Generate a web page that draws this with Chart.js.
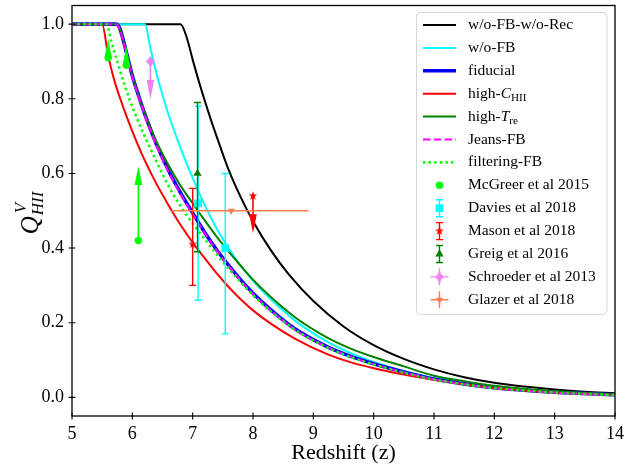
<!DOCTYPE html>
<html>
<head>
<meta charset="utf-8">
<script src="https://cdn.jsdelivr.net/npm/chart.js@4.4.0/dist/chart.umd.min.js"></script>
<style>
  html, body { margin: 0; padding: 0; background: #fff; }
  #caja { width: 644px; height: 466px; }
</style>
</head>
<body>
<div id="caja"><canvas id="graficoQ" width="644" height="466"></canvas></div>
<script>
// Curvas del modelo (redshift z, fraccion ionizada Q)
const zSinFbSinRec = [5, 6.8, 6.9, 7.0, 7.1, 7.2, 7.3, 7.4, 7.6, 7.8, 8.0, 8.3, 8.6, 9.0, 9.5, 10.0, 10.5, 11.0, 11.5, 12.0, 12.5, 13.0, 13.5, 14];
const qSinFbSinRec = [1, 1, 0.965, 0.905, 0.848, 0.795, 0.745, 0.698, 0.608, 0.535, 0.472, 0.393, 0.328, 0.258, 0.19, 0.14, 0.103, 0.075, 0.054, 0.039, 0.029, 0.021, 0.015, 0.011];

const zSinFb = [5, 6.21, 6.3, 6.4, 6.5, 6.6, 6.8, 7.0, 7.2, 7.4, 7.6, 7.8, 8.0, 8.3, 8.7, 9.2, 9.6, 10.0, 10.5, 11.0, 11.5, 12.0, 13.0, 14];
const qSinFb = [1, 1, 0.935, 0.868, 0.81, 0.758, 0.668, 0.588, 0.515, 0.452, 0.398, 0.352, 0.312, 0.262, 0.205, 0.152, 0.12, 0.095, 0.07, 0.051, 0.038, 0.028, 0.015, 0.008];

// fiducial, high-T y Jeans-FB comparten la misma rejilla en z
const zFid = [5, 5.74, 5.8, 5.9, 6.0, 6.1, 6.2, 6.4, 6.6, 6.8, 7.0, 7.2, 7.4, 7.6, 7.8, 8.0, 8.3, 8.7, 9.2, 9.6, 10.0, 10.5, 11.0, 11.5, 12.0, 13.0, 14];
const qFiducial = [1, 1, 0.985, 0.925, 0.862, 0.81, 0.762, 0.678, 0.608, 0.548, 0.494, 0.442, 0.395, 0.353, 0.314, 0.279, 0.234, 0.183, 0.138, 0.111, 0.09, 0.068, 0.049, 0.036, 0.026, 0.014, 0.007];
const qAltaT = [1, 1, 0.985, 0.925, 0.862, 0.81, 0.764, 0.685, 0.622, 0.567, 0.52, 0.474, 0.43, 0.39, 0.352, 0.315, 0.268, 0.214, 0.163, 0.132, 0.108, 0.083, 0.058, 0.043, 0.031, 0.016, 0.008];
const qJeans = [1, 1, 0.982, 0.922, 0.859, 0.807, 0.759, 0.675, 0.605, 0.545, 0.491, 0.44, 0.393, 0.351, 0.312, 0.277, 0.232, 0.181, 0.137, 0.11, 0.089, 0.067, 0.048, 0.035, 0.025, 0.013, 0.006];

const zAltaC = [5, 5.5, 5.6, 5.7, 5.8, 5.9, 6.0, 6.2, 6.4, 6.6, 6.8, 7.0, 7.2, 7.4, 7.6, 7.8, 8.0, 8.3, 8.7, 9.2, 9.6, 10.0, 10.5, 11.0, 11.5, 12.0, 13.0, 14];
const qAltaC = [1, 1, 0.915, 0.85, 0.8, 0.755, 0.713, 0.637, 0.572, 0.515, 0.462, 0.415, 0.373, 0.332, 0.295, 0.262, 0.233, 0.197, 0.157, 0.118, 0.095, 0.078, 0.061, 0.047, 0.035, 0.025, 0.013, 0.006];

const zFiltrado = [5, 5.57, 5.65, 5.75, 5.85, 5.95, 6.05, 6.2, 6.4, 6.6, 6.8, 7.0, 7.2, 7.4, 7.6, 7.8, 8.0, 8.3, 8.7, 9.2, 9.6, 10.0, 10.5, 11.0, 11.5, 12.0, 13.0, 14];
const qFiltrado = [1, 1, 0.955, 0.9, 0.848, 0.8, 0.758, 0.702, 0.632, 0.567, 0.512, 0.466, 0.424, 0.383, 0.344, 0.308, 0.274, 0.23, 0.181, 0.136, 0.109, 0.088, 0.066, 0.048, 0.035, 0.025, 0.013, 0.006];

// Observaciones
const zMcGreer = [5.6, 5.9, 6.1];
const qMcGreer = [0.91, 0.89, 0.42];
const limMcGreer = [0.05, 0.05, 0.20];          // limites inferiores (flecha arriba)

const zDavies = [7.09, 7.54];
const qDavies = [0.52, 0.40];
const errBajoDavies = [0.26, 0.23];
const errAltoDavies = [0.26, 0.20];

const zMason = [7.0, 8.0];
const qMason = [0.41, 0.54];
const errBajoMason = [0.11, null];
const errAltoMason = [0.15, null];
const limMason = [null, -0.10];                 // limite superior (flecha abajo)

const zGreig = [7.08];
const qGreig = [0.60];
const errBajoGreig = [0.21];
const errAltoGreig = [0.19];

const zSchroeder = [6.3];
const qSchroeder = [0.90];
const errZSchroeder = [0.07];
const limSchroeder = [-0.10];

const zGlazer = [7.64];
const qGlazer = [0.50];
const errZBajoGlazer = [0.99];
const errZAltoGlazer = [1.28];

const ticksX = [5, 6, 7, 8, 9, 10, 11, 12, 13, 14];
const ticksY = [0.0, 0.2, 0.4, 0.6, 0.8, 1.0];

const nombresSeries = ['w/o-FB-w/o-Rec', 'w/o-FB', 'fiducial', 'high-C_HII', 'high-T_re', 'Jeans-FB', 'filtering-FB',
  'McGreer et al 2015', 'Davies et al 2018', 'Mason et al 2018', 'Greig et al 2016', 'Schroeder et al 2013', 'Glazer et al 2018'];

const fuente = "'Liberation Serif', 'DejaVu Serif', serif";

function puntos(zs, qs) {
  return zs.map((z, i) => ({ x: z, y: qs[i] }));
}

// estrella rellena y diamante fino como pointStyle
function crearEstrella(color, r) {
  const c = document.createElement('canvas');
  const s = Math.ceil(2 * r + 2);
  c.width = s; c.height = s;
  const g = c.getContext('2d');
  g.fillStyle = color;
  g.beginPath();
  for (let i = 0; i < 10; i++) {
    const rr = i % 2 === 0 ? r : r * 0.42;
    const a = -Math.PI / 2 + i * Math.PI / 5;
    g.lineTo(s / 2 + rr * Math.cos(a), s / 2 + rr * Math.sin(a));
  }
  g.closePath();
  g.fill();
  return c;
}

function crearDiamante(color, w, h) {
  const c = document.createElement('canvas');
  c.width = Math.ceil(w + 2); c.height = Math.ceil(h + 2);
  const g = c.getContext('2d');
  const cx = c.width / 2, cy = c.height / 2;
  g.fillStyle = color;
  g.beginPath();
  g.moveTo(cx, cy - h / 2);
  g.lineTo(cx + w / 2, cy);
  g.lineTo(cx, cy + h / 2);
  g.lineTo(cx - w / 2, cy);
  g.closePath();
  g.fill();
  return c;
}

const estrellaRoja = crearEstrella('#ff0000', 4.6);
const diamanteVioleta = crearDiamante('#ee82ee', 8, 11);

function linea(label, zs, qs, color, ancho, dash) {
  return {
    label: label,
    data: puntos(zs, qs),
    showLine: true,
    borderColor: color,
    backgroundColor: color,
    borderWidth: ancho,
    borderDash: dash || [],
    pointRadius: 0,
    cubicInterpolationMode: 'monotone',
    fill: false,
    tipoLeyenda: 'linea'
  };
}

function observacion(label, zs, qs, color, estilo, radio, rot, extra) {
  return Object.assign({
    label: label,
    data: puntos(zs, qs),
    showLine: false,
    pointStyle: estilo,
    pointRadius: radio,
    pointRotation: rot || 0,
    backgroundColor: color,
    borderColor: color,
    pointBorderWidth: 0,
    borderWidth: 0,
    colorError: color,
    tipoLeyenda: 'punto'
  }, extra);
}

const datasets = [
  linea(nombresSeries[0], zSinFbSinRec, qSinFbSinRec, '#000000', 2),
  linea(nombresSeries[1], zSinFb, qSinFb, '#00ffff', 2),
  linea(nombresSeries[2], zFid, qFiducial, '#0000ff', 3.6),
  linea(nombresSeries[3], zAltaC, qAltaC, '#ff0000', 2),
  linea(nombresSeries[4], zFid, qAltaT, '#008000', 2),
  linea(nombresSeries[5], zFid, qJeans, '#ff00ff', 2, [7.5, 3.3]),
  linea(nombresSeries[6], zFiltrado, qFiltrado, '#00ff00', 2.6, [2.4, 3.2]),
  observacion(nombresSeries[7], zMcGreer, qMcGreer, '#00ff00', 'circle', 3.7, 0, {
    errores: zMcGreer.map((z, i) => ({ x: z, y: qMcGreer[i], flecha: limMcGreer[i] })),
    leyendaBarras: {}
  }),
  observacion(nombresSeries[8], zDavies, qDavies, '#00ffff', 'rect', 5.5, 0, {
    errores: zDavies.map((z, i) => ({ x: z, y: qDavies[i], yLo: qDavies[i] - errBajoDavies[i], yHi: qDavies[i] + errAltoDavies[i] })),
    tapas: true, leyendaBarras: { v: true, tapas: true }
  }),
  observacion(nombresSeries[9], zMason, qMason, '#ff0000', estrellaRoja, 4.6, 0, {
    errores: zMason.map((z, i) => ({
      x: z, y: qMason[i],
      yLo: errBajoMason[i] == null ? null : qMason[i] - errBajoMason[i],
      yHi: errAltoMason[i] == null ? null : qMason[i] + errAltoMason[i],
      flecha: limMason[i]
    })),
    tapas: true, leyendaBarras: { v: true, tapas: true }
  }),
  observacion(nombresSeries[10], zGreig, qGreig, '#008000', 'triangle', 4.8, 0, {
    errores: zGreig.map((z, i) => ({ x: z, y: qGreig[i], yLo: qGreig[i] - errBajoGreig[i], yHi: qGreig[i] + errAltoGreig[i] })),
    tapas: true, leyendaBarras: { v: true, tapas: true }
  }),
  observacion(nombresSeries[11], zSchroeder, qSchroeder, '#ee82ee', diamanteVioleta, 5, 0, {
    errores: zSchroeder.map((z, i) => ({ x: z, y: qSchroeder[i], xLo: z - errZSchroeder[i], xHi: z + errZSchroeder[i], flecha: limSchroeder[i] })),
    leyendaBarras: { v: true, h: true }
  }),
  observacion(nombresSeries[12], zGlazer, qGlazer, '#ff7f50', 'triangle', 4.2, 180, {
    errores: zGlazer.map((z, i) => ({ x: z, y: qGlazer[i], xLo: z - errZBajoGlazer[i], xHi: z + errZAltoGlazer[i] })),
    leyendaBarras: { v: true, h: true }
  })
];
// los ultimos de la lista quedan encima
datasets.forEach((d, i) => { d.order = datasets.length - i; });

// Barras de error y flechas de limite, dibujadas justo antes de cada marcador
const barrasError = {
  id: 'barrasError',
  beforeDatasetDraw(chart, args) {
    const ds = chart.data.datasets[args.index];
    if (!ds.errores) return;
    const ctx = chart.ctx, sx = chart.scales.x, sy = chart.scales.y;
    ctx.save();
    ctx.strokeStyle = ds.colorError;
    ctx.fillStyle = ds.colorError;
    ctx.lineWidth = 1.4;
    ds.errores.forEach(e => {
      const px = sx.getPixelForValue(e.x), py = sy.getPixelForValue(e.y);
      if (e.yLo != null) {
        const a = sy.getPixelForValue(e.yHi), b = sy.getPixelForValue(e.yLo);
        ctx.beginPath(); ctx.moveTo(px, a); ctx.lineTo(px, b); ctx.stroke();
        if (ds.tapas) {
          ctx.beginPath();
          ctx.moveTo(px - 3.5, a); ctx.lineTo(px + 3.5, a);
          ctx.moveTo(px - 3.5, b); ctx.lineTo(px + 3.5, b);
          ctx.stroke();
        }
      }
      if (e.xLo != null) {
        const a = sx.getPixelForValue(e.xLo), b = sx.getPixelForValue(e.xHi);
        ctx.beginPath(); ctx.moveTo(a, py); ctx.lineTo(b, py); ctx.stroke();
      }
      if (e.flecha) {
        const fin = sy.getPixelForValue(e.y + e.flecha);
        const dir = fin < py ? -1 : 1;
        const largo = 19;
        ctx.lineWidth = 1.6;
        ctx.beginPath(); ctx.moveTo(px, py); ctx.lineTo(px, fin - dir * largo * 0.5); ctx.stroke();
        ctx.beginPath();
        ctx.moveTo(px, fin);
        ctx.lineTo(px - 3.8, fin - dir * largo);
        ctx.lineTo(px + 3.8, fin - dir * largo);
        ctx.closePath();
        ctx.fill();
        ctx.lineWidth = 1.4;
      }
    });
    ctx.restore();
  }
};

function dibujarMarcador(ctx, estilo, radio, rot, x, y, color) {
  ctx.save();
  ctx.fillStyle = color;
  if (estilo instanceof HTMLCanvasElement) {
    ctx.drawImage(estilo, x - estilo.width / 2, y - estilo.height / 2);
    ctx.restore();
    return;
  }
  ctx.translate(x, y);
  ctx.rotate(rot * Math.PI / 180);
  ctx.beginPath();
  if (estilo === 'circle') {
    ctx.arc(0, 0, radio, 0, 2 * Math.PI);
  } else if (estilo === 'rect') {
    const s = radio * Math.SQRT1_2;
    ctx.rect(-s, -s, 2 * s, 2 * s);
  } else if (estilo === 'triangle') {
    for (let k = 0; k < 3; k++) {
      const a = k * 2 * Math.PI / 3;
      ctx.lineTo(Math.sin(a) * radio, -Math.cos(a) * radio);
    }
    ctx.closePath();
  }
  ctx.fill();
  ctx.restore();
}

// texto con cursiva y subindice para "high-C_HII" / "high-T_re"
function textoLeyenda(ctx, texto, x, y) {
  const tam = 15.5;
  ctx.fillStyle = '#000';
  ctx.textBaseline = 'middle';
  ctx.textAlign = 'left';
  if (texto.indexOf('_') < 0) {
    ctx.font = tam + 'px ' + fuente;
    ctx.fillText(texto, x, y);
    return;
  }
  const [antes, sub] = texto.split('_');
  const pre = antes.slice(0, -1), letra = antes.slice(-1);
  ctx.font = tam + 'px ' + fuente;
  ctx.fillText(pre, x, y);
  x += ctx.measureText(pre).width;
  ctx.font = 'italic ' + tam + 'px ' + fuente;
  ctx.fillText(letra, x, y);
  x += ctx.measureText(letra).width;
  ctx.font = (tam * 0.72) + 'px ' + fuente;
  ctx.fillText(sub, x, y + 4);
}

// Leyenda estilo matplotlib dentro del area del grafico
const leyenda = {
  id: 'leyenda',
  afterDraw(chart) {
    const ctx = chart.ctx;
    const x0 = 416.5, y0 = 12.5, w = 190.5, h = 302, r = 4;
    ctx.save();
    ctx.beginPath();
    ctx.moveTo(x0 + r, y0);
    ctx.arcTo(x0 + w, y0, x0 + w, y0 + h, r);
    ctx.arcTo(x0 + w, y0 + h, x0, y0 + h, r);
    ctx.arcTo(x0, y0 + h, x0, y0, r);
    ctx.arcTo(x0, y0, x0 + w, y0, r);
    ctx.closePath();
    ctx.fillStyle = 'rgba(255,255,255,0.8)';
    ctx.fill();
    ctx.strokeStyle = '#d6d6d6';
    ctx.lineWidth = 1;
    ctx.stroke();

    chart.data.datasets.forEach((ds, i) => {
      const cy = 25 + i * 22.9;
      const ix = 439.5;
      if (ds.tipoLeyenda === 'linea') {
        ctx.save();
        ctx.strokeStyle = ds.borderColor;
        ctx.lineWidth = ds.borderWidth;
        ctx.setLineDash(ds.borderDash);
        ctx.beginPath();
        ctx.moveTo(423, cy);
        ctx.lineTo(456, cy);
        ctx.stroke();
        ctx.restore();
      } else {
        const b = ds.leyendaBarras;
        ctx.save();
        ctx.strokeStyle = ds.colorError;
        ctx.lineWidth = 1.4;
        ctx.beginPath();
        if (b.v) { ctx.moveTo(ix, cy - 8.5); ctx.lineTo(ix, cy + 8.5); }
        if (b.h) { ctx.moveTo(ix - 9, cy); ctx.lineTo(ix + 9, cy); }
        if (b.tapas) {
          ctx.moveTo(ix - 3.5, cy - 8.5); ctx.lineTo(ix + 3.5, cy - 8.5);
          ctx.moveTo(ix - 3.5, cy + 8.5); ctx.lineTo(ix + 3.5, cy + 8.5);
        }
        ctx.stroke();
        ctx.restore();
        dibujarMarcador(ctx, ds.pointStyle, ds.pointRadius, ds.pointRotation, ix, cy, ds.backgroundColor);
      }
      textoLeyenda(ctx, ds.label, 468, cy);
    });
    ctx.restore();
  }
};

// Marco, marcas de los ejes (hacia dentro y fuera) y titulos de ejes
const marcoEjes = {
  id: 'marcoEjes',
  afterDatasetsDraw(chart) {
    const ctx = chart.ctx, a = chart.chartArea;
    const sx = chart.scales.x, sy = chart.scales.y;
    ctx.save();
    ctx.strokeStyle = '#000';
    ctx.lineWidth = 1.3;
    ctx.strokeRect(a.left, a.top, a.right - a.left, a.bottom - a.top);
    ctx.lineWidth = 1.1;
    ctx.beginPath();
    ticksX.forEach(v => {
      const p = sx.getPixelForValue(v);
      ctx.moveTo(p, a.bottom - 3.5); ctx.lineTo(p, a.bottom + 3.5);
    });
    ticksY.forEach(v => {
      const p = sy.getPixelForValue(v);
      ctx.moveTo(a.left - 3.5, p); ctx.lineTo(a.left + 3.5, p);
    });
    ctx.stroke();

    // titulo eje x
    ctx.fillStyle = '#000';
    ctx.font = '22px ' + fuente;
    ctx.textAlign = 'center';
    ctx.textBaseline = 'middle';
    ctx.fillText('Redshift (z)', (a.left + a.right) / 2, 453);

    // titulo eje y: Q^V_HII en cursiva, rotado
    ctx.translate(38, 213);
    ctx.rotate(-Math.PI / 2);
    ctx.textBaseline = 'alphabetic';
    ctx.textAlign = 'left';
    ctx.font = 'italic 25px ' + fuente;
    const wQ = ctx.measureText('Q').width;
    ctx.font = 'italic 17px ' + fuente;
    const wSub = ctx.measureText('HII').width;
    const wSup = ctx.measureText('V').width;
    const total = wQ + 1 + Math.max(wSub, wSup);
    let x = -total / 2;
    ctx.font = 'italic 25px ' + fuente;
    ctx.fillText('Q', x, 0);
    x += wQ + 1;
    ctx.font = 'italic 17px ' + fuente;
    ctx.fillText('V', x + 2, -12);
    ctx.fillText('HII', x, 5);
    ctx.restore();
  }
};

const ctxQ = document.getElementById('graficoQ').getContext('2d');
new Chart(ctxQ, {
  type: 'scatter',
  data: { datasets: datasets },
  options: {
    responsive: false,
    maintainAspectRatio: false,
    devicePixelRatio: 1,
    animation: false,
    events: [],
    layout: { padding: { left: 0, right: 29, top: 5, bottom: 0 } },
    plugins: {
      legend: { display: false },
      tooltip: { enabled: false }
    },
    scales: {
      x: {
        type: 'linear',
        min: 5,
        max: 14,
        afterBuildTicks: s => { s.ticks = ticksX.map(v => ({ value: v })); },
        afterFit: s => { s.height = 50; s.paddingLeft = 0; s.paddingRight = 0; },
        grid: { display: true, drawOnChartArea: false, drawTicks: false },
        border: { display: false },
        ticks: {
          color: '#000',
          font: { family: fuente, size: 18 },
          padding: 7,
          maxRotation: 0,
          autoSkip: false,
          callback: v => String(v)
        }
      },
      y: {
        type: 'linear',
        min: -0.05,
        max: 1.05,
        afterBuildTicks: s => { s.ticks = ticksY.map(v => ({ value: v })); },
        afterFit: s => { s.width = 72; s.paddingTop = 0; s.paddingBottom = 0; },
        grid: { display: true, drawOnChartArea: false, drawTicks: false },
        border: { display: false },
        ticks: {
          color: '#000',
          font: { family: fuente, size: 18 },
          padding: 8,
          autoSkip: false,
          callback: v => v.toFixed(1)
        }
      }
    }
  },
  plugins: [barrasError, marcoEjes, leyenda]
});
</script>
</body>
</html>
